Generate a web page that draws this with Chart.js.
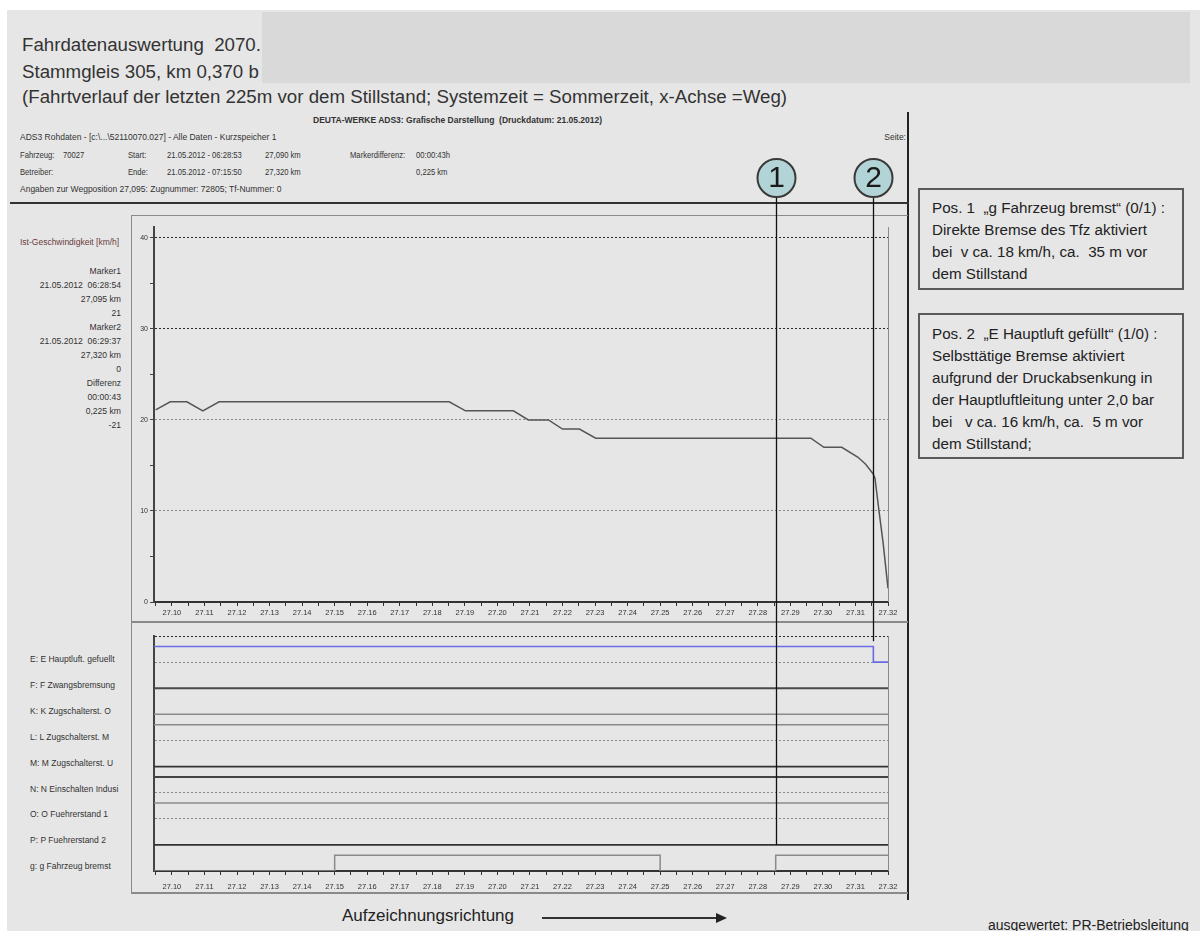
<!DOCTYPE html>
<html><head><meta charset="utf-8">
<script src="https://cdn.jsdelivr.net/npm/chart.js@4.4.0/dist/chart.umd.min.js"></script>
<style>
html,body{margin:0;padding:0;background:#fff;width:1200px;height:931px;overflow:hidden;font-family:"Liberation Sans",Arial,sans-serif;}
.a{position:absolute;white-space:nowrap;}
#bg{left:7px;top:10px;width:1193px;height:921px;background:#e6e6e6;}
#redact{left:262px;top:12px;width:928px;height:71px;background:#d9d9d9;}
.title{left:22px;font-size:18.7px;color:#333;line-height:26px;}
.sm{font-size:8.5px;color:#333;line-height:12px;}
.nw{transform:scaleX(0.9);transform-origin:0 50%;}
.lbl{font-size:8.5px;color:#333;line-height:12px;}
.box{position:absolute;border:2px solid #5a5a5a;box-sizing:border-box;font-size:15.2px;color:#222;line-height:22px;padding-left:12px;}
canvas{position:absolute;}
</style>
</head><body>
<div id="bg" class="a"></div>
<div id="redact" class="a"></div>
<div class="a title" style="top:32px">Fahrdatenauswertung&nbsp; 2070.</div>
<div class="a title" style="top:59px">Stammgleis 305, km 0,370 b</div>
<div class="a title" style="top:84px">(Fahrtverlauf der letzten 225m vor dem Stillstand; Systemzeit = Sommerzeit, x-Achse =Weg)</div>

<div class="a sm" style="left:313px;top:114px;font-weight:bold;">DEUTA-WERKE ADS3: Grafische Darstellung&nbsp; (Druckdatum: 21.05.2012)</div>
<div class="a sm" style="left:20px;top:131px;">ADS3 Rohdaten - [c:\...\52110070.027] - Alle Daten - Kurzspeicher 1</div>
<div class="a sm" style="right:294px;top:131px;">Seite:</div>
<div class="a sm nw" style="left:20px;top:149px;">Fahrzeug:</div>
<div class="a sm nw" style="left:63px;top:149px;">70027</div>
<div class="a sm nw" style="left:128px;top:149px;">Start:</div>
<div class="a sm nw" style="left:167px;top:149px;">21.05.2012 - 06:28:53</div>
<div class="a sm nw" style="left:265px;top:149px;">27,090 km</div>
<div class="a sm nw" style="left:350px;top:149px;">Markerdifferenz:</div>
<div class="a sm nw" style="left:416px;top:149px;">00:00:43h</div>
<div class="a sm nw" style="left:20px;top:166px;">Betreiber:</div>
<div class="a sm nw" style="left:128px;top:166px;">Ende:</div>
<div class="a sm nw" style="left:167px;top:166px;">21.05.2012 - 07:15:50</div>
<div class="a sm nw" style="left:265px;top:166px;">27,320 km</div>
<div class="a sm nw" style="left:416px;top:166px;">0,225 km</div>
<div class="a sm" style="left:20px;top:183px;">Angaben zur Wegposition 27,095: Zugnummer: 72805; Tf-Nummer: 0</div>

<!-- frames -->
<div class="a" style="left:907px;top:112px;width:2px;height:788px;background:#222;"></div>
<div class="a" style="left:10px;top:202px;width:899px;height:2px;background:#333;"></div>
<div class="a" style="left:131px;top:215px;width:776px;height:676px;border-left:1.5px solid #8a8a8a;border-top:1.5px solid #8a8a8a;border-bottom:2px solid #8a8a8a;"></div>
<div class="a" style="left:131px;top:621px;width:777px;height:1.5px;background:#8a8a8a;"></div>

<!-- speed panel labels -->
<div class="a lbl" style="left:20px;top:236px;color:#6b3c3c;">Ist-Geschwindigkeit [km/h]</div>
<div class="a lbl" id="mk" style="right:1079px;top:264px;text-align:right;line-height:14px;font-size:8.6px;"></div>

<!-- signal labels -->
<div id="sigLabels"></div>

<canvas id="speed" width="910" height="471" style="left:0;top:150px;"></canvas>
<canvas id="sig" width="910" height="279" style="left:0;top:621px;"></canvas>

<!-- annotation boxes -->
<div class="box" style="left:918px;top:188px;width:266px;height:102px;padding-top:7px;">Pos. 1&nbsp; „g Fahrzeug bremst“ (0/1) :<br>Direkte Bremse des Tfz aktiviert<br>bei&nbsp; v ca. 18 km/h, ca.&nbsp; 35 m vor<br>dem Stillstand</div>
<div class="box" style="left:918px;top:313px;width:266px;height:146px;padding-top:8px;">Pos. 2&nbsp; „E Hauptluft gefüllt“ (1/0) :<br>Selbsttätige Bremse aktiviert<br>aufgrund der Druckabsenkung in<br>der Hauptluftleitung unter 2,0 bar<br>bei&nbsp;&nbsp; v ca. 16 km/h, ca.&nbsp; 5 m vor<br>dem Stillstand;</div>

<div class="a" style="left:342px;top:906px;font-size:17px;color:#222;">Aufzeichnungsrichtung</div>
<div class="a" style="left:542px;top:917px;width:176px;height:2px;background:#333;"></div>
<div class="a" style="left:716px;top:913px;width:0;height:0;border-top:5px solid transparent;border-bottom:5px solid transparent;border-left:11px solid #222;"></div>
<div class="a" style="left:988px;top:917px;font-size:14px;color:#222;">ausgewertet: PR-Betriebsleitung</div>

<script>
// ---------- data ----------
const xTickLabels = ['27.10','27.11','27.12','27.13','27.14','27.15','27.16','27.17','27.18','27.19','27.20','27.21','27.22','27.23','27.24','27.25','27.26','27.27','27.28','27.29','27.30','27.31','27.32'];
const speedTickLabels = [0, 10, 20, 30, 40];
const speedKm  = [27.095, 27.0995, 27.1046, 27.1095, 27.1145, 27.1852, 27.1902, 27.2049, 27.2095, 27.2157, 27.2200, 27.2252, 27.2302, 27.2963, 27.3003, 27.3058, 27.3108, 27.3132, 27.3154, 27.3160, 27.3172, 27.3185, 27.3200];
const speedKmh = [21.1, 22, 22, 21, 22, 22, 21, 21, 20, 20, 19, 19, 18, 18, 17, 17, 15.9, 15.1, 14.1, 13.6, 10.1, 6.5, 1.5];

const markerKm = [27.2855, 27.3155];
const markerNames = ['1', '2'];
const markerText = ['Marker1','21.05.2012&nbsp; 06:28:54','27,095 km','21','Marker2','21.05.2012&nbsp; 06:29:37','27,320 km','0','Differenz','00:00:43','0,225 km','-21'];

const signalNames = ['E: E Hauptluft. gefuellt','F: F Zwangsbremsung','K: K Zugschalterst. O','L: L Zugschalterst. M','M: M Zugschalterst. U','N: N Einschalten Indusi','O: O Fuehrerstand 1','P: P Fuehrerstand 2','g: g Fahrzeug bremst'];
const sigE_km = [27.0945, 27.3155, 27.32]; const sigE = [1, 0, 0];
const sigF_km = [27.0945, 27.32]; const sigF = [0, 0];
const sigK_km = [27.0945, 27.32]; const sigK = [0, 0];
const sigL_km = [27.0945, 27.32]; const sigL = [1, 1];
const sigM_km = [27.0945, 27.32]; const sigM = [0, 0];
const sigN_km = [27.0945, 27.32]; const sigN = [1, 1];
const sigO_km = [27.0945, 27.32]; const sigO = [1, 1];
const sigP_km = [27.0945, 27.32]; const sigP = [0, 0];
const sigG_km = [27.0945, 27.15, 27.25, 27.2855, 27.32]; const sigG = [0, 1, 0, 1, 1];

// ---------- texts ----------
document.getElementById('mk').innerHTML = markerText.join('<br>');
const sl = document.getElementById('sigLabels');
signalNames.forEach((n, i) => {
  const d = document.createElement('div');
  d.className = 'a lbl';
  d.style.left = '30px';
  d.style.top = (653 + i * 25.9) + 'px';
  d.textContent = n;
  sl.appendChild(d);
});

Chart.defaults.font.family = '"Liberation Sans", Arial, sans-serif';
Chart.defaults.color = '#333';

const X_MIN = 27.0945, X_MAX = 27.32;
function xTicks(scale) {
  const t = [];
  xTickLabels.forEach(l => { const v = parseFloat(l); t.push({value: +(v - 0.005).toFixed(3)}); t.push({value: v}); });
  scale.ticks = t.filter(o => o.value >= X_MIN - 1e-9);
}
function xLabel(v) {
  const s = (Math.round(v * 100) / 100).toFixed(2);
  return (Math.abs(v - parseFloat(s)) < 1e-6 && xTickLabels.includes(s)) ? s : '';
}

const markerPlugin = {
  id: 'markers',
  afterDatasetsDraw(chart, args, opts) {
    const {ctx, chartArea: ca, scales: {x, y}} = chart;
    ctx.save();
    ctx.strokeStyle = '#8a8a8a'; ctx.lineWidth = 1;
    ctx.beginPath(); ctx.moveTo(Math.round(ca.right) + 0.5, ca.top); ctx.lineTo(Math.round(ca.right) + 0.5, ca.bottom); ctx.stroke();
    markerKm.forEach((km, i) => {
      const px = Math.round(x.getPixelForValue(km)) + 0.5;
      let y0, y1;
      if (opts.circles) { y0 = opts.cy + opts.r; y1 = chart.height; }
      else { y0 = 0; y1 = y.getPixelForValue(opts.endLevels[i]); }
      ctx.strokeStyle = '#111'; ctx.lineWidth = 1.3;
      ctx.beginPath(); ctx.moveTo(px, y0); ctx.lineTo(px, y1); ctx.stroke();
      if (opts.circles) {
        ctx.beginPath(); ctx.arc(px, opts.cy, opts.r, 0, Math.PI * 2);
        ctx.fillStyle = '#b3d4d6'; ctx.fill();
        ctx.lineWidth = 2; ctx.strokeStyle = '#3a3a3a'; ctx.stroke();
        ctx.fillStyle = '#1a1a1a'; ctx.font = '30px "Liberation Sans", Arial, sans-serif';
        ctx.textAlign = 'center'; ctx.textBaseline = 'middle';
        ctx.fillText(markerNames[i], px, opts.cy + 1);
      }
    });
    ctx.restore();
  }
};

// ---------- speed chart ----------
new Chart(document.getElementById('speed'), {
  type: 'line',
  data: { datasets: [{
    data: speedKm.map((k, i) => ({x: k, y: speedKmh[i]})),
    borderColor: '#555', borderWidth: 1.5, pointRadius: 0, tension: 0, fill: false
  }]},
  options: {
    responsive: false, animation: false, devicePixelRatio: 1,
    layout: { padding: {left: 0, top: 77, right: 22, bottom: 0} },
    plugins: { legend: {display: false}, tooltip: {enabled: false},
      markers: { circles: true, cy: 28, r: 19 } },
    scales: {
      x: { type: 'linear', min: X_MIN, max: X_MAX,
        afterBuildTicks: xTicks,
        afterFit(s) { s.height = 19; },
        ticks: { autoSkip: false, maxRotation: 0, padding: 2, font: {size: 7.5}, color: '#333', callback: xLabel },
        grid: { drawOnChartArea: false, drawTicks: true, tickLength: 4, tickColor: '#333' },
        border: { color: '#333', width: 2 } },
      y: { type: 'linear', min: 0, max: 41.2,
        afterBuildTicks(s) { const t = []; speedTickLabels.forEach((v, i) => { t.push({value: v}); if (i < speedTickLabels.length - 1) t.push({value: (v + speedTickLabels[i + 1]) / 2}); }); s.ticks = t; },
        afterFit(s) { s.width = 154; },
        ticks: { padding: 2, font: {size: 7}, color: '#333', callback: v => speedTickLabels.includes(v) ? String(v) : '' },
        grid: { drawTicks: true, tickLength: 4, tickColor: '#444',
          color: c => { const v = c.tick && c.tick.value; return (v === 40 || v === 30) ? '#2a2a2a' : (v === 20 || v === 10) ? '#8a8a8a' : 'rgba(0,0,0,0)'; },
          lineWidth: 1 },
        border: { color: '#444', width: 2, dash: [2, 2] } }
    }
  },
  plugins: [markerPlugin]
});

// ---------- signal chart ----------
const channels = [
  [sigE_km, sigE, '#6b6be6', 1.6],
  [sigF_km, sigF, '#4a4a4a', 2],
  [sigK_km, sigK, '#8a8a8a', 1.5],
  [sigL_km, sigL, '#8a8a8a', 1.5],
  [sigM_km, sigM, '#333', 1.8],
  [sigN_km, sigN, '#444', 1.8],
  [sigO_km, sigO, '#8a8a8a', 1.5],
  [sigP_km, sigP, '#333', 1.8],
  [sigG_km, sigG, '#8a8a8a', 1.5]
];
const refLevels = [9, 8, 5, 3, 2];
new Chart(document.getElementById('sig'), {
  type: 'line',
  data: { datasets: channels.map((c, i) => ({
    data: c[0].map((k, j) => ({x: k, y: (8 - i) + c[1][j] * 0.6})),
    borderColor: c[2], borderWidth: c[3], pointRadius: 0, stepped: true, fill: false
  }))},
  options: {
    responsive: false, animation: false, devicePixelRatio: 1,
    layout: { padding: {left: 0, top: 15, right: 22, bottom: 0} },
    plugins: { legend: {display: false}, tooltip: {enabled: false},
      markers: { circles: false, endLevels: [1, 8.8] } },
    scales: {
      x: { type: 'linear', min: X_MIN, max: X_MAX,
        afterBuildTicks: xTicks,
        afterFit(s) { s.height = 29; },
        ticks: { autoSkip: false, maxRotation: 0, padding: 7, font: {size: 7.5}, color: '#333', callback: xLabel },
        grid: { drawOnChartArea: false, drawTicks: true, tickLength: 4, tickColor: '#333' },
        border: { color: '#333', width: 2 } },
      y: { type: 'linear', min: 0, max: 9,
        afterBuildTicks(s) { s.ticks = refLevels.map(v => ({value: v})); },
        afterFit(s) { s.width = 154; },
        ticks: { display: false },
        grid: { drawTicks: false, color: c => (c.tick && c.tick.value === 9) ? '#2a2a2a' : '#8a8a8a', lineWidth: 1 },
        border: { color: '#444', width: 2, dash: [2, 2] } }
    }
  },
  plugins: [markerPlugin]
});
</script>
</body></html>
